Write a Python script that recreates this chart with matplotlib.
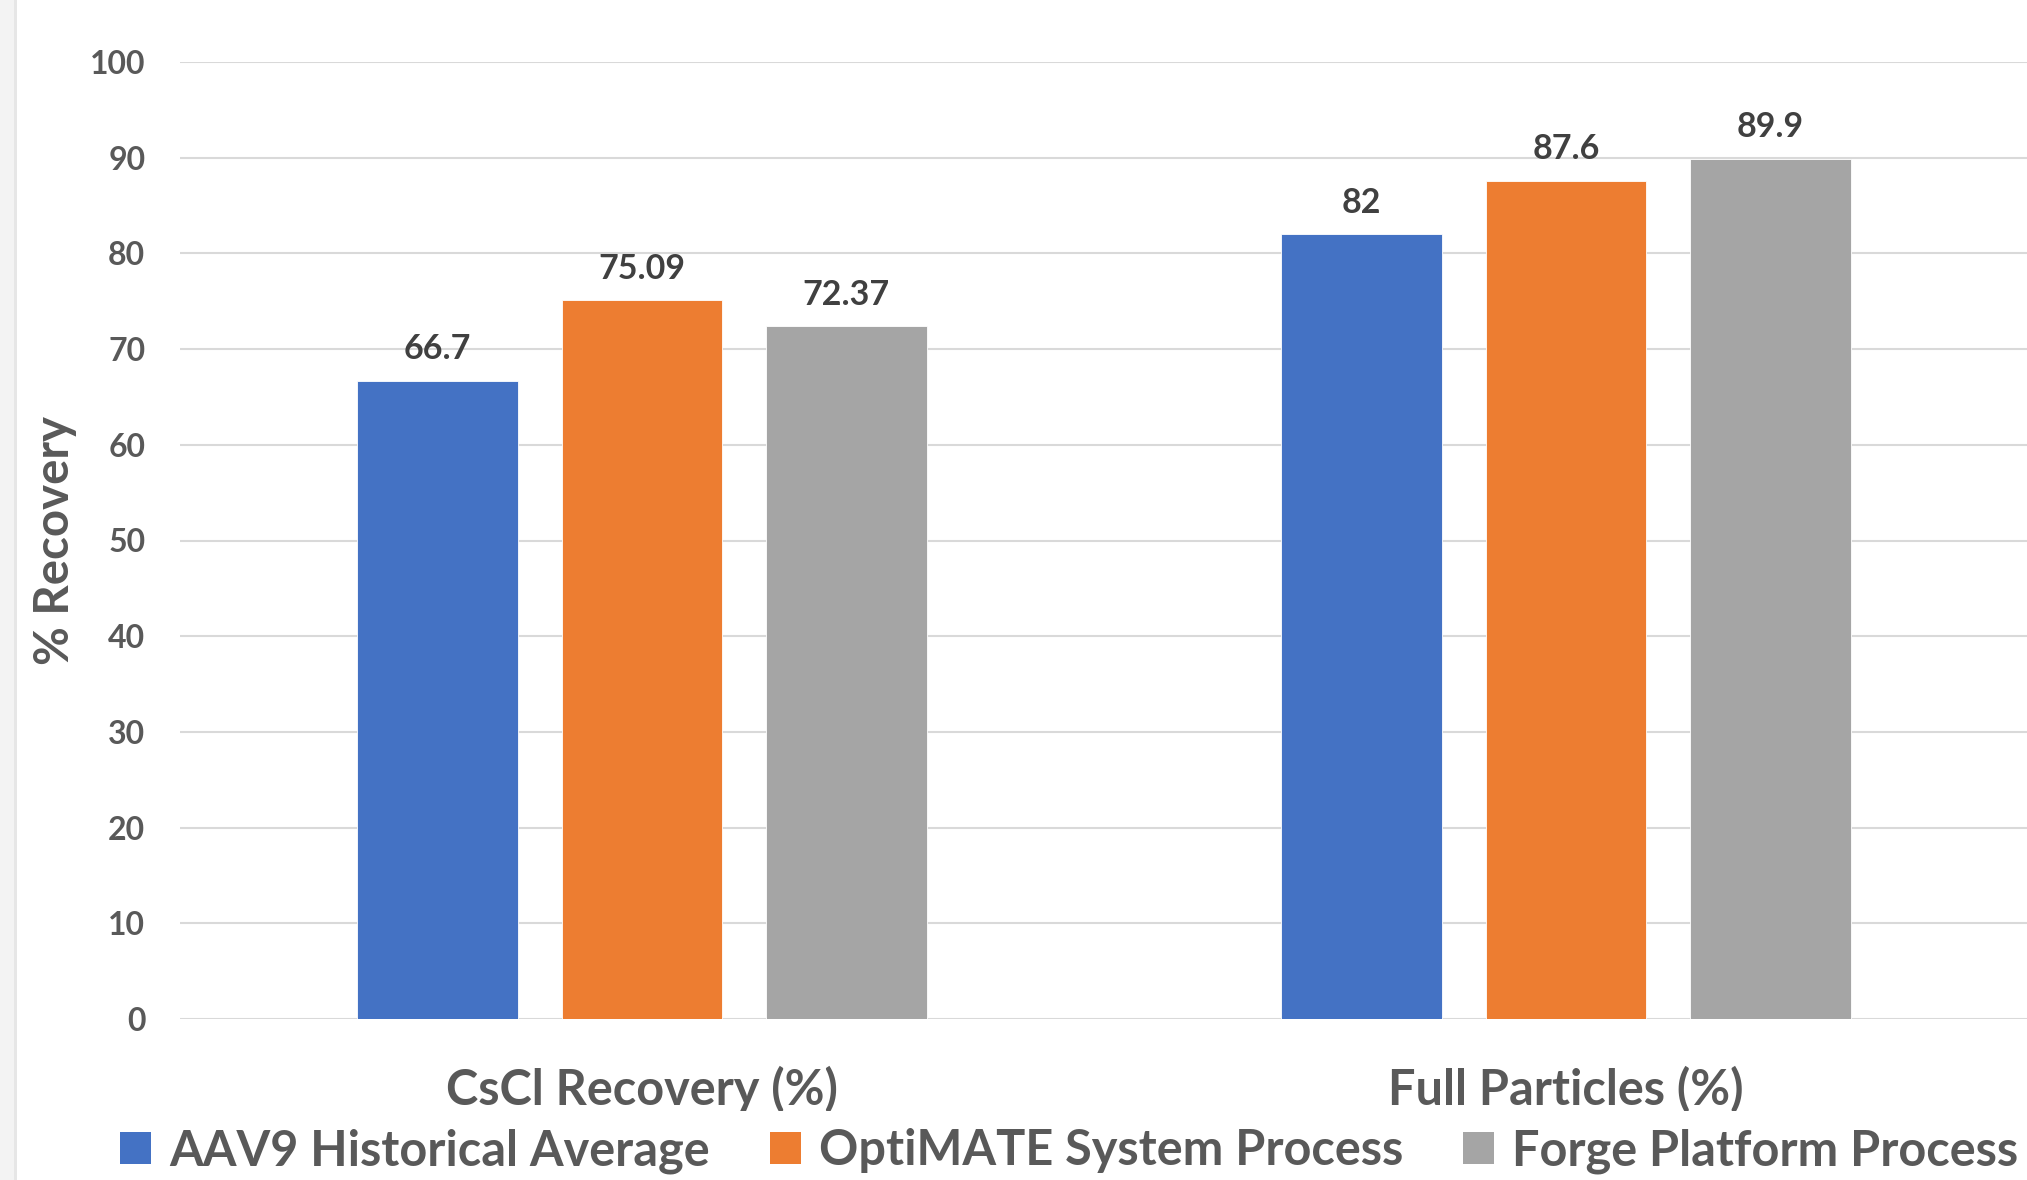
import numpy as np
import matplotlib
matplotlib.use('Agg')
import matplotlib.pyplot as plt
from matplotlib.patches import Rectangle, Patch

plt.rcParams['font.family'] = ['Lato', 'DejaVu Sans']
plt.rcParams['font.weight'] = 'bold'

# data
categories = ['CsCl Recovery (%)', 'Full Particles (%)']
series_names = ['AAV9 Historical Average', 'OptiMATE System Process', 'Forge Platform Process']
aav9_hist = [66.7, 82]
optimate = [75.09, 87.6]
forge = [72.37, 89.9]
colors = ['#4472C4', '#ED7D31', '#A5A5A5']
y_ticks = [0, 10, 20, 30, 40, 50, 60, 70, 80, 90, 100]

W, H = 2027, 1180
fig = plt.figure(figsize=(W / 100, H / 100), dpi=100)
fig.patch.set_facecolor('white')

# plot area (pixel positions)
left, right, top, bottom = 180, 2028, 62, 1019
ax = fig.add_axes([left / W, 1 - bottom / H, (right - left) / W, (bottom - top) / H])

x = np.arange(len(categories))
step = 0.221
width = 0.174
all_series = [aav9_hist, optimate, forge]
for i, vals in enumerate(all_series):
    bars = ax.bar(x + (i - 1) * step, vals, width, color=colors[i], zorder=3,
                  edgecolor='white', linewidth=0.6)
    ax.bar_label(bars, padding=11, fontsize=24.5, fontweight='bold', color='#404040')

ax.set_xlim(-0.5, 1.5)
ax.set_ylim(0, 100)
ax.set_yticks(y_ticks)
ax.set_xticks(x)
ax.set_xticklabels(categories, fontsize=35, color='#595959')
ax.tick_params(axis='y', length=0, pad=25, labelsize=23, labelcolor='#595959')
ax.tick_params(axis='x', length=0, pad=34)
ax.grid(axis='y', color='#D9D9D9', linewidth=1.5, zorder=0)
for s in ax.spines.values():
    s.set_visible(False)

ax.set_ylabel('% Recovery', fontsize=34, fontweight='bold', color='#595959', va='center')
ax.yaxis.set_label_coords(-0.0677, 0.5)

# legend at the bottom, its white box hides the lower edge of the category labels
handles = [Patch(facecolor=c, edgecolor='none') for c in colors]
fs = 35
leg = fig.legend(handles, series_names, loc='center left',
                 bbox_to_anchor=(103 / W, 1 - 1151 / H), ncol=3, fontsize=fs,
                 frameon=True, facecolor='white', edgecolor='none', framealpha=1,
                 borderpad=0.35, borderaxespad=0, handlelength=0.64, handleheight=0.64,
                 handletextpad=0.37, columnspacing=1.23, fancybox=False)
for t in leg.get_texts():
    t.set_color('#595959')

# grey strip at the left edge
fig.patches.append(Rectangle((0, 0), 14 / W, 1, transform=fig.transFigure,
                             facecolor='#F3F3F3', edgecolor='none'))
fig.patches.append(Rectangle((14 / W, 0), 3 / W, 1, transform=fig.transFigure,
                             facecolor='#E6E6E6', edgecolor='none'))

fig.savefig('out.png', dpi=100)
